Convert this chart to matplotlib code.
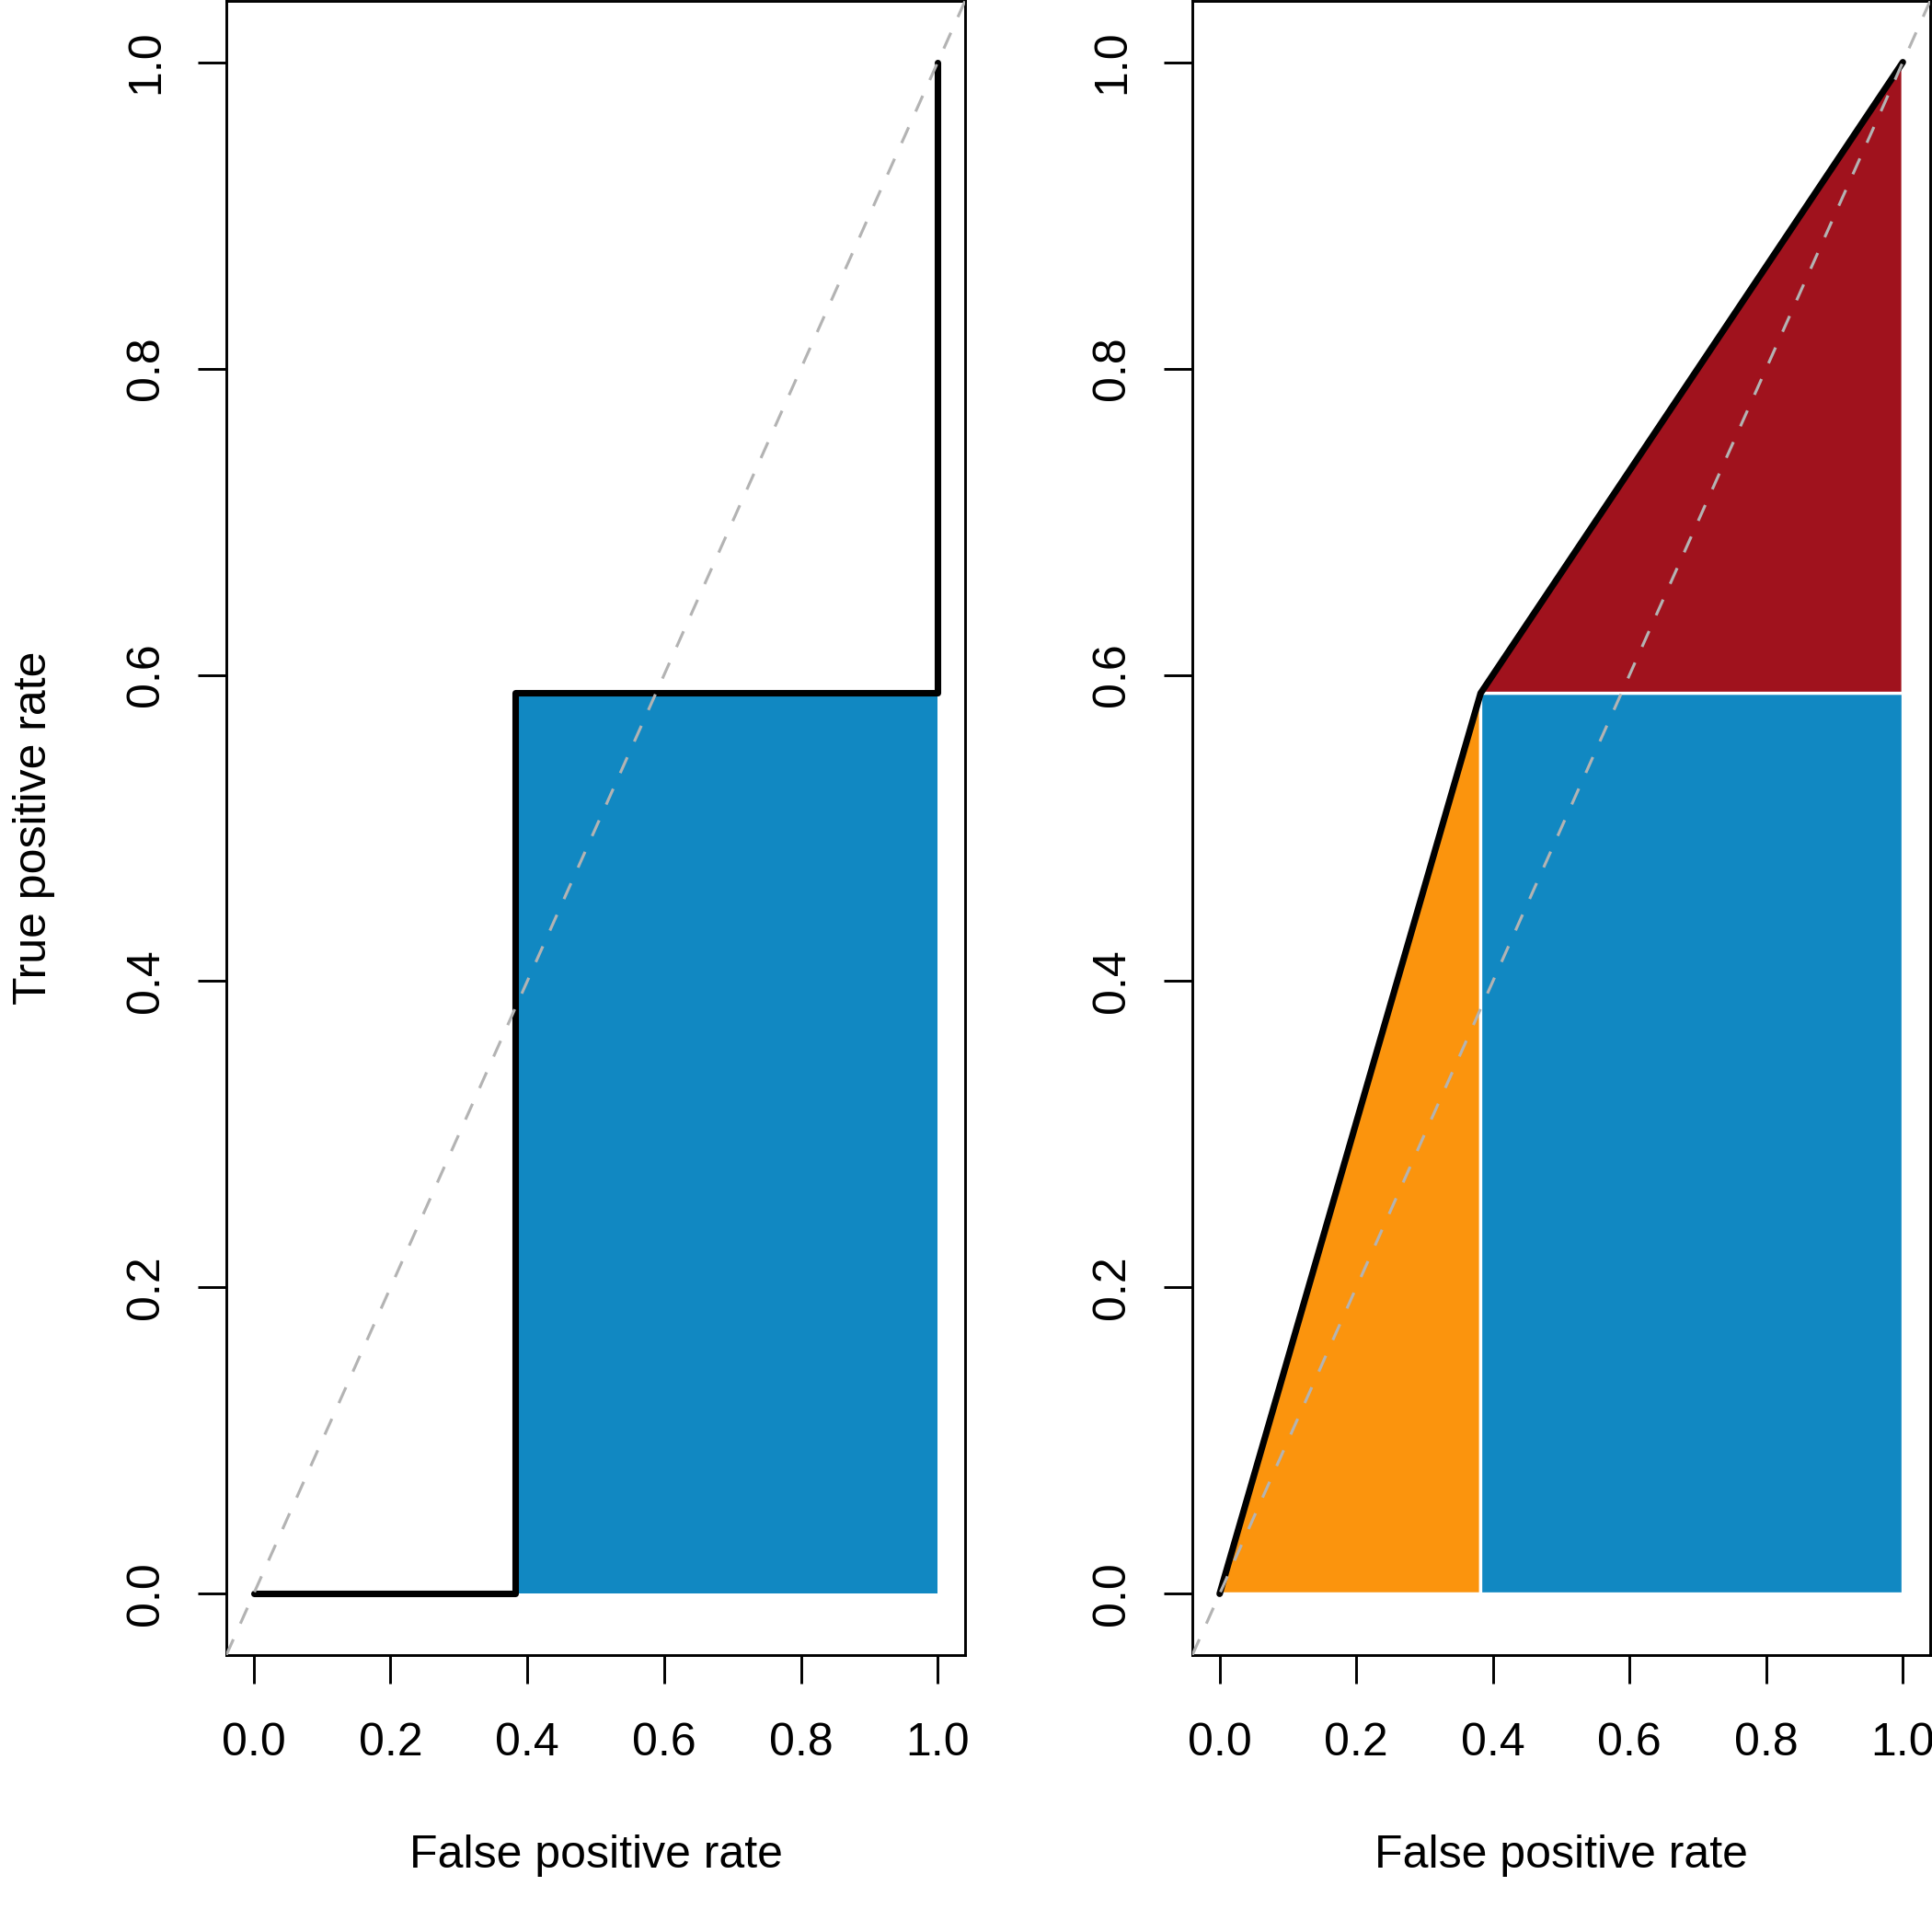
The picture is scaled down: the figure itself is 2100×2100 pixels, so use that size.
import matplotlib
matplotlib.use("Agg")
import matplotlib.pyplot as plt

plt.rcParams['font.family'] = ['Liberation Sans', 'DejaVu Sans']

# ROC points (single threshold classifier)
fpr = [0.0, 0.382, 1.0]
tpr = [0.0, 0.588, 1.0]
ticks = [0.0, 0.2, 0.4, 0.6, 0.8, 1.0]
tick_labels = ['0.0', '0.2', '0.4', '0.6', '0.8', '1.0']

BLUE = '#1188C2'
ORANGE = '#FB940D'
RED = '#A0121D'
GREY = '#B3B3B3'


def setup_axes(ax, ylabel=None):
    ax.set_xlim(-0.04, 1.04)
    ax.set_ylim(-0.04, 1.04)
    ax.set_xticks(ticks)
    ax.set_xticklabels(tick_labels)
    ax.set_yticks(ticks)
    ax.set_yticklabels(tick_labels, rotation=90, va='center')
    ax.tick_params(direction='out', length=7.4, width=0.7, labelsize=12)
    ax.tick_params(axis='x', pad=10)
    ax.tick_params(axis='y', pad=8)
    for s in ax.spines.values():
        s.set_linewidth(0.7)
    ax.set_xlabel('False positive rate', fontsize=12, va='center')
    ax.xaxis.set_label_coords(0.5, -0.121)
    if ylabel:
        ax.set_ylabel(ylabel, fontsize=12, va='center')
        ax.yaxis.set_label_coords(-0.26, 0.5)


fig = plt.figure(figsize=(7, 7), dpi=300)
ax1 = fig.add_axes([246 / 2100, 301 / 2100, 803 / 2100, 1798 / 2100])
ax2 = fig.add_axes([1296 / 2100, 301 / 2100, 802 / 2100, 1798 / 2100])

line_kw = dict(color='black', lw=1.7, solid_capstyle='round',
               solid_joinstyle='round', zorder=3)
diag_kw = dict(color=GREY, lw=0.75, dashes=(6, 6), zorder=4)

# left: step ROC with rectangle area
ax1.fill_between([fpr[1], fpr[2]], 0, tpr[1], color=BLUE, lw=0, zorder=1)
ax1.plot(fpr, tpr, drawstyle='steps-post', **line_kw)
ax1.axline((0, 0), (1, 1), **diag_kw)
setup_axes(ax1, 'True positive rate')

# right: interpolated ROC, area split into three pieces
ax2.fill([fpr[0], fpr[1], fpr[1]], [tpr[0], tpr[1], tpr[0]], color=ORANGE,
         ec='white', lw=0.8, zorder=1)
ax2.fill([fpr[1], fpr[2], fpr[2], fpr[1]], [0, 0, tpr[1], tpr[1]], color=BLUE,
         ec='white', lw=0.8, zorder=1)
ax2.fill([fpr[1], fpr[2], fpr[2]], [tpr[1], tpr[2], tpr[1]], color=RED,
         ec='white', lw=0.8, zorder=1)
ax2.plot(fpr, tpr, **line_kw)
ax2.axline((0, 0), (1, 1), **diag_kw)
setup_axes(ax2)

fig.savefig('out.png', dpi=300)
